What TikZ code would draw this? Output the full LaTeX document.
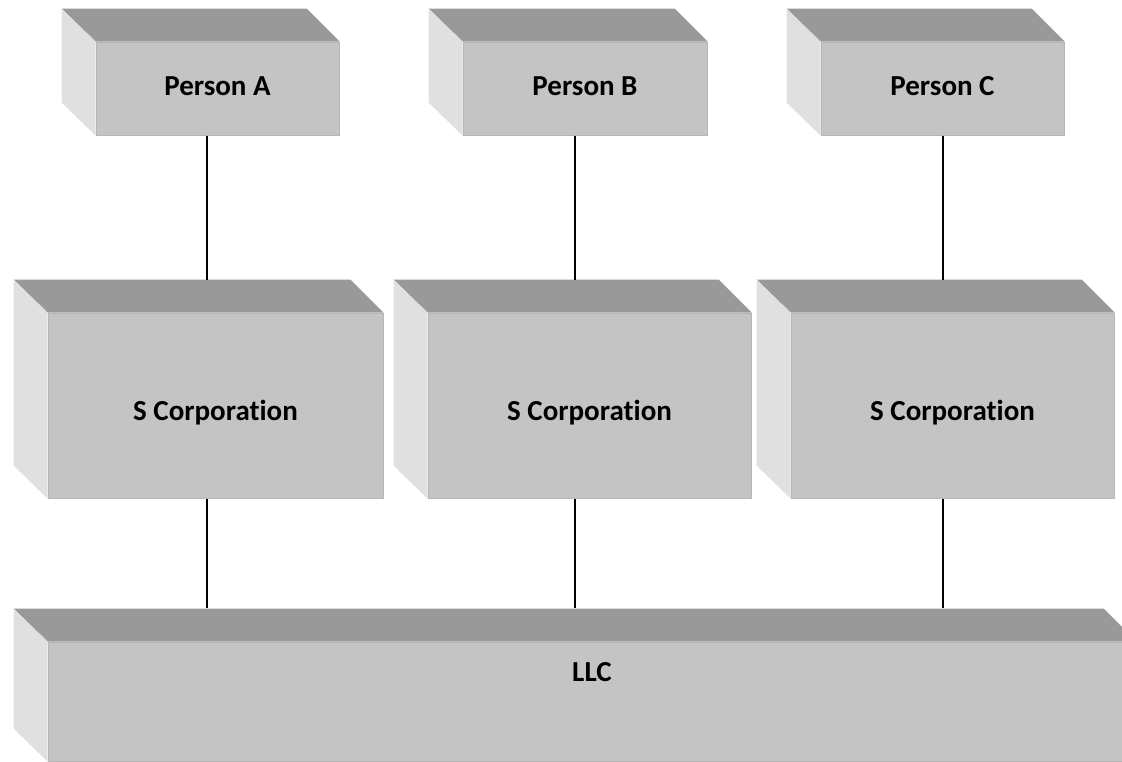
\documentclass[tikz,border=0pt]{standalone}
\usepackage{fontspec}
\setmainfont[Ligatures={NoCommon}]{Carlito}
\definecolor{topgray}{HTML}{999999}
\definecolor{frontgray}{HTML}{C4C4C4}
\definecolor{sidegray}{HTML}{E0E0E0}
\definecolor{edgegray}{HTML}{B6B6B6}
% top and left faces of a cuboid whose front face is node #1
\newcommand\cuboidfaces[1]{%
  \fill[topgray] (#1.north west) -- ++(-34,-33) -- ([shift={(-33,-33)}]#1.north east) -- (#1.north east) -- cycle;
  \fill[sidegray] (#1.north west) -- ++(-34,-33) -- ([shift={(-34,-33)}]#1.south west) -- (#1.south west) -- cycle;
}
\begin{document}
\begin{tikzpicture}[x=1pt,y=-1pt,
  frontface/.style={fill=frontgray, draw=edgegray, line width=1pt, inner sep=0pt,
    font=\fontsize{29}{34}\selectfont\bfseries},
  personbox/.style={frontface, minimum height=93pt, text height=13pt, text depth=0pt},
  corpbox/.style={frontface, minimum height=185pt, text height=29pt, text depth=0pt},
  link/.style={draw=black, line width=1.3pt}]
\useasboundingbox (0,0) rectangle (1122,761);
\clip (0,0) rectangle (1122,761);

% owners
\node[personbox, minimum width=243pt] (pa) at (217.5,88.5) {Person A};
\node[personbox, minimum width=244pt] (pb) at (585,88.5) {Person B};
\node[personbox, minimum width=243pt] (pc) at (942.5,88.5) {Person C};

% S corporations
\node[corpbox, minimum width=335pt] (sa) at (215.5,405.5) {S Corporation};
\node[corpbox, minimum width=323pt] (sb) at (589.5,405.5) {S Corporation};
\node[corpbox, minimum width=323pt] (sc) at (952.5,405.5) {S Corporation};

% LLC
\node[frontface, minimum width=1088pt, minimum height=119pt,
  label={[name=llclabel, anchor=center, yshift=-31pt, font=\fontsize{29}{34}\selectfont\bfseries]north:LLC}]
  (llc) at (592,701.5) {};

\foreach \n in {pa,pb,pc,sa,sb,sc,llc} {\cuboidfaces{\n}}

% columns of the connecting lines
\coordinate (ca) at (207,0);
\coordinate (cb) at (575,0);
\coordinate (cc) at (943,0);
% back top edges of the lower boxes
\coordinate (sabk) at ([yshift=33pt]sa.north);
\coordinate (sbbk) at ([yshift=33pt]sb.north);
\coordinate (scbk) at ([yshift=33pt]sc.north);
\coordinate (llcbk) at ([yshift=34pt]llc.north);

\draw[link] (pa.south -| ca) -- (sabk -| ca);
\draw[link] (pb.south -| cb) -- (sbbk -| cb);
\draw[link] (pc.south -| cc) -- (scbk -| cc);
\draw[link] (sa.south -| ca) -- (llcbk -| ca);
\draw[link] (sb.south -| cb) -- (llcbk -| cb);
\draw[link] (sc.south -| cc) -- (llcbk -| cc);
\end{tikzpicture}
\end{document}
